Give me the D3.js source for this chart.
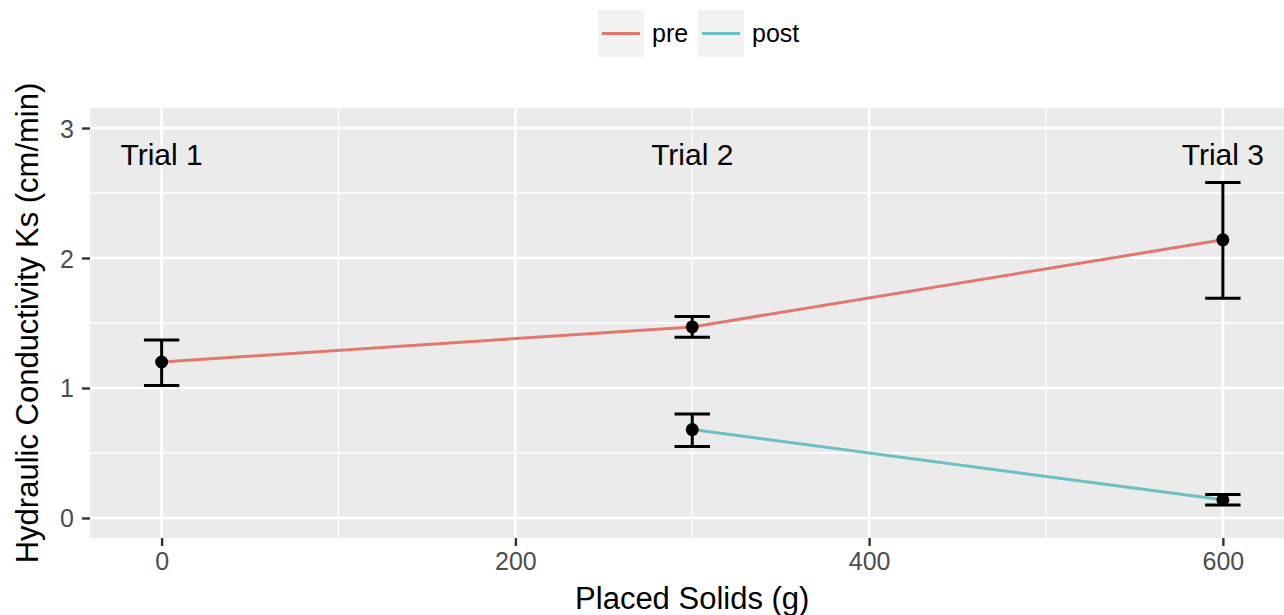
<!DOCTYPE html>
<html>
<head>
<meta charset="utf-8">
<script src="https://cdn.jsdelivr.net/npm/d3@7"></script>
<style>
  body { margin: 0; background: #fff; }
  svg { display: block; font-family: 'Liberation Sans', Arial, sans-serif; }
</style>
</head>
<body>
<svg id="graph"></svg>
<script>
// data
const groups = ['pre', 'post']
const preSolids = [0, 300, 600]
const preKs = [1.20, 1.47, 2.14]
const preLow = [1.02, 1.39, 1.69]
const preHigh = [1.37, 1.55, 2.58]
const postSolids = [300, 600]
const postKs = [0.68, 0.14]
const postLow = [0.55, 0.10]
const postHigh = [0.80, 0.18]
const trialLabels = ['Trial 1', 'Trial 2', 'Trial 3']
const trialSolids = [0, 300, 600]
const trialY = 2.8
const xTicks = [0, 200, 400, 600]
const xMinor = [100, 300, 500]
const yTicks = [0, 1, 2, 3]
const yMinor = [0.5, 1.5, 2.5]

const colors = { pre: '#E2776D', post: '#6BC0C4' }

const width = 1284
const height = 615
const panel = { left: 90, top: 108, right: 1294.5, bottom: 538 }

const svg = d3.select('#graph').attr('width', width).attr('height', height)

const xScale = d3.scaleLinear().domain([-40.5, 640.5]).range([panel.left, panel.right])
const yScale = d3.scaleLinear().domain([-0.154, 3.154]).range([panel.bottom, panel.top])

const toRows = (xs, ys, lo, hi) => xs.map((x, i) => ({ x, y: ys[i], lo: lo[i], hi: hi[i] }))
const series = [
  { name: 'pre', rows: toRows(preSolids, preKs, preLow, preHigh) },
  { name: 'post', rows: toRows(postSolids, postKs, postLow, postHigh) },
]

// panel background
svg.append('rect')
  .attr('x', panel.left).attr('y', panel.top)
  .attr('width', panel.right - panel.left).attr('height', panel.bottom - panel.top)
  .attr('fill', '#EBEBEB')

const grid = svg.append('g')
grid.selectAll('.vminor').data(xMinor).enter().append('line')
  .attr('x1', (d) => xScale(d)).attr('x2', (d) => xScale(d))
  .attr('y1', panel.top).attr('y2', panel.bottom)
  .attr('stroke', '#fff').attr('stroke-width', 1.3)
grid.selectAll('.hminor').data(yMinor).enter().append('line')
  .attr('y1', (d) => yScale(d)).attr('y2', (d) => yScale(d))
  .attr('x1', panel.left).attr('x2', panel.right)
  .attr('stroke', '#fff').attr('stroke-width', 1.3)
grid.selectAll('.vmajor').data(xTicks).enter().append('line')
  .attr('x1', (d) => xScale(d)).attr('x2', (d) => xScale(d))
  .attr('y1', panel.top).attr('y2', panel.bottom)
  .attr('stroke', '#fff').attr('stroke-width', 2.6)
grid.selectAll('.hmajor').data(yTicks).enter().append('line')
  .attr('y1', (d) => yScale(d)).attr('y2', (d) => yScale(d))
  .attr('x1', panel.left).attr('x2', panel.right)
  .attr('stroke', '#fff').attr('stroke-width', 2.6)

// axes
const axisX = svg.append('g')
  .attr('transform', `translate(0,${panel.bottom})`)
  .call(d3.axisBottom(xScale).tickValues(xTicks).tickSize(8).tickPadding(6).tickFormat(d3.format('d')))
const axisY = svg.append('g')
  .attr('transform', `translate(${panel.left},0)`)
  .call(d3.axisLeft(yScale).tickValues(yTicks).tickSize(8).tickPadding(8).tickFormat(d3.format('d')))
;[axisX, axisY].forEach((a) => {
  a.select('.domain').remove()
  a.selectAll('.tick line').attr('stroke', '#333').attr('stroke-width', 2.4)
  a.selectAll('.tick text').attr('fill', '#4D4D4D').style('font-size', '25px')
})
axisY.selectAll('.tick text').attr('dy', '0.36em')

// lines
const line = d3.line().x((d) => xScale(d.x)).y((d) => yScale(d.y))
series.forEach((s) => {
  svg.append('path').datum(s.rows)
    .attr('fill', 'none')
    .attr('stroke', colors[s.name])
    .attr('stroke-width', 3)
    .attr('d', line)
})

// error bars and points
const capHalf = 10
series.forEach((s) => {
  const g = svg.append('g').selectAll('g').data(s.rows).enter().append('g')
  g.append('line')
    .attr('x1', (d) => xScale(d.x)).attr('x2', (d) => xScale(d.x))
    .attr('y1', (d) => yScale(d.lo)).attr('y2', (d) => yScale(d.hi))
    .attr('stroke', '#000').attr('stroke-width', 3)
  g.append('line')
    .attr('x1', (d) => xScale(d.x - capHalf)).attr('x2', (d) => xScale(d.x + capHalf))
    .attr('y1', (d) => yScale(d.hi)).attr('y2', (d) => yScale(d.hi))
    .attr('stroke', '#000').attr('stroke-width', 3)
  g.append('line')
    .attr('x1', (d) => xScale(d.x - capHalf)).attr('x2', (d) => xScale(d.x + capHalf))
    .attr('y1', (d) => yScale(d.lo)).attr('y2', (d) => yScale(d.lo))
    .attr('stroke', '#000').attr('stroke-width', 3)
  g.append('circle')
    .attr('cx', (d) => xScale(d.x)).attr('cy', (d) => yScale(d.y))
    .attr('r', 6.5).attr('fill', '#000')
})

// trial labels
svg.append('g').selectAll('text').data(trialLabels).enter().append('text')
  .attr('x', (d, i) => xScale(trialSolids[i]))
  .attr('y', yScale(trialY))
  .attr('dy', '0.36em')
  .attr('text-anchor', 'middle')
  .style('font-size', '30px')
  .attr('fill', '#000')
  .text((d) => d)

// axis titles
svg.append('text')
  .attr('x', (panel.left + panel.right) / 2).attr('y', 609)
  .attr('text-anchor', 'middle')
  .style('font-size', '31px')
  .text('Placed Solids (g)')
svg.append('text')
  .attr('transform', `translate(38,${(panel.top + panel.bottom) / 2}) rotate(-90)`)
  .attr('text-anchor', 'middle')
  .style('font-size', '31px')
  .text('Hydraulic Conductivity Ks (cm/min)')

// legend
const legendX = [598, 698]
const legend = svg.append('g').selectAll('g').data(groups).enter().append('g')
  .attr('transform', (d, i) => `translate(${legendX[i]},10)`)
legend.append('rect')
  .attr('width', 46).attr('height', 47).attr('fill', '#F2F2F2')
legend.append('line')
  .attr('x1', 4).attr('x2', 42).attr('y1', 23.5).attr('y2', 23.5)
  .attr('stroke', (d) => colors[d]).attr('stroke-width', 3)
legend.append('text')
  .attr('x', 54).attr('y', 32)
  .style('font-size', '25px')
  .text((d) => d)
</script>
</body>
</html>
